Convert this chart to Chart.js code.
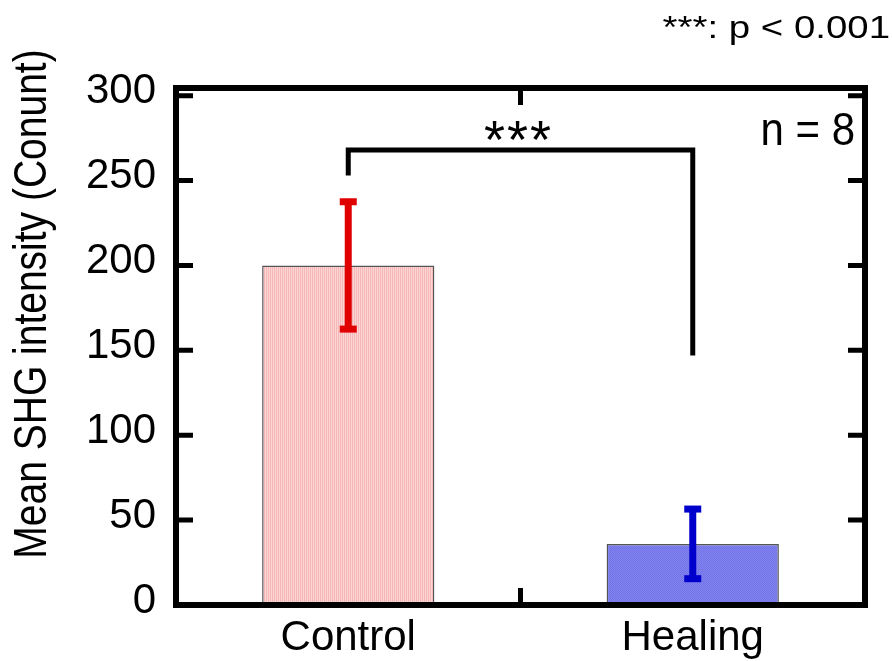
<!DOCTYPE html>
<html>
<head>
<meta charset="utf-8">
<script src="https://cdn.jsdelivr.net/npm/chart.js@4/dist/chart.umd.min.js"></script>
<style>
  html, body { margin: 0; padding: 0; background: #fff; }
  canvas { display: block; }
</style>
</head>
<body>
<canvas id="chart" width="892" height="661"></canvas>
<script>
const categories = ['Control', 'Healing'];
const means = [200, 36];
const errors = [37.5, 20.5];
const yTicks = [0, 50, 100, 150, 200, 250, 300];
const yMax = 304.5;
const bracket = [253, 268, 147]; // left foot, top, right foot
const bracketLabel = '***';
const sampleNote = 'n = 8';
const pNote = '***: p < 0.001';
const yTitle = 'Mean SHG intensity (Conunt)';

const FONT = '"Liberation Sans", Arial, sans-serif';

// little tiles for the hatched bar fills
function makePattern(cols, w, h) {
    const c = document.createElement('canvas');
    c.width = w;
    c.height = h;
    const g = c.getContext('2d');
    for (let y = 0; y < h; y++) {
        for (let x = 0; x < w; x++) {
            g.fillStyle = cols[y % cols.length][x % cols[0].length];
            g.fillRect(x, y, 1, 1);
        }
    }
    return g.createPattern(c, 'repeat');
}

const redFill = makePattern([
    ['#f5b0b0', '#fad2d2', '#f7bcbc', '#fbd8d8'],
    ['#f7bcbc', '#fbd8d8', '#f5b0b0', '#fad2d2']
], 4, 2);
const blueFill = makePattern([
    ['#7272e8', '#8484ee'],
    ['#8484ee', '#7272e8']
], 2, 2);

const errColors = ['#e00000', '#0000cc'];

const extras = {
    id: 'extras',
    afterDatasetsDraw(chart) {
        const ctx = chart.ctx;
        const y = chart.scales.y;
        const meta = chart.getDatasetMeta(0);

        // error bars
        ctx.save();
        meta.data.forEach((bar, i) => {
            const top = y.getPixelForValue(means[i] + errors[i]);
            const bot = y.getPixelForValue(means[i] - errors[i]);
            ctx.strokeStyle = errColors[i];
            ctx.fillStyle = errColors[i];
            ctx.lineWidth = 7;
            ctx.beginPath();
            ctx.moveTo(bar.x, top);
            ctx.lineTo(bar.x, bot);
            ctx.stroke();
            ctx.fillRect(bar.x - 8.5, top - 3.5, 17, 7);
            ctx.fillRect(bar.x - 8.5, bot - 3.5, 17, 7);
        });
        ctx.restore();
    },
    afterDraw(chart) {
        const ctx = chart.ctx;
        const a = chart.chartArea;
        const x = chart.scales.x;
        const y = chart.scales.y;
        const meta = chart.getDatasetMeta(0);

        ctx.save();
        ctx.strokeStyle = '#000';
        ctx.fillStyle = '#000';

        // frame
        ctx.lineWidth = 6;
        ctx.strokeRect(a.left, a.top, a.right - a.left, a.bottom - a.top);

        // inward ticks
        ctx.lineWidth = 5;
        ctx.beginPath();
        yTicks.forEach(v => {
            const py = y.getPixelForValue(v);
            ctx.moveTo(a.left, py);
            ctx.lineTo(a.left + 17, py);
            ctx.moveTo(a.right, py);
            ctx.lineTo(a.right - 17, py);
        });
        const mid = (x.getPixelForValue(0) + x.getPixelForValue(1)) / 2;
        ctx.moveTo(mid, a.top);
        ctx.lineTo(mid, a.top + 17);
        ctx.moveTo(mid, a.bottom);
        ctx.lineTo(mid, a.bottom - 17);
        ctx.stroke();

        // significance bracket
        const xl = meta.data[0].x;
        const xr = meta.data[1].x;
        ctx.lineWidth = 5;
        ctx.lineJoin = 'miter';
        ctx.beginPath();
        ctx.moveTo(xl, y.getPixelForValue(bracket[0]));
        ctx.lineTo(xl, y.getPixelForValue(bracket[1]));
        ctx.lineTo(xr, y.getPixelForValue(bracket[1]));
        ctx.lineTo(xr, y.getPixelForValue(bracket[2]));
        ctx.stroke();

        ctx.font = '54px ' + FONT;
        ctx.textAlign = 'center';
        ctx.textBaseline = 'alphabetic';
        for (let k = 0; k < bracketLabel.length; k++) {
            ctx.fillText(bracketLabel[k], mid - 26 + k * 23, 158);
        }

        // n = 8
        ctx.save();
        ctx.translate(855, 145);
        ctx.scale(1, 1.08);
        ctx.font = '42px ' + FONT;
        ctx.textAlign = 'right';
        ctx.fillText(sampleNote, 0, 0);
        ctx.restore();

        // p note, top right
        ctx.save();
        ctx.translate(890, 38);
        ctx.scale(1.2, 1);
        ctx.font = '32px ' + FONT;
        ctx.textAlign = 'right';
        ctx.fillText(pNote, 0, 0);
        ctx.restore();

        // y axis title
        ctx.save();
        ctx.translate(33, 304);
        ctx.rotate(-Math.PI / 2);
        ctx.scale(1, 1.2);
        ctx.font = '39px ' + FONT;
        ctx.textAlign = 'center';
        ctx.textBaseline = 'middle';
        ctx.fillText(yTitle, 0, 0);
        ctx.restore();

        ctx.restore();
    }
};

new Chart(document.getElementById('chart'), {
    type: 'bar',
    data: {
        labels: categories,
        datasets: [{
            data: means,
            backgroundColor: [redFill, blueFill],
            borderColor: '#555',
            borderWidth: 1.5,
            barPercentage: 0.5,
            categoryPercentage: 1
        }]
    },
    options: {
        responsive: false,
        animation: false,
        layout: { padding: { top: 88, right: 27, left: 0, bottom: 0 } },
        plugins: {
            legend: { display: false },
            tooltip: { enabled: false }
        },
        scales: {
            x: {
                grid: { display: false },
                border: { display: false },
                ticks: { color: '#000', font: { family: FONT, size: 42 }, padding: 0 },
                afterFit(s) { s.height = 56; }
            },
            y: {
                min: 0,
                max: yMax,
                grid: { display: false },
                border: { display: false },
                ticks: { color: '#000', font: { family: FONT, size: 42 }, padding: 12, labelOffset: -4 },
                afterBuildTicks(s) { s.ticks = yTicks.map(v => ({ value: v })); },
                afterFit(s) { s.width = 176; }
            }
        }
    },
    plugins: [extras]
});
</script>
</body>
</html>
